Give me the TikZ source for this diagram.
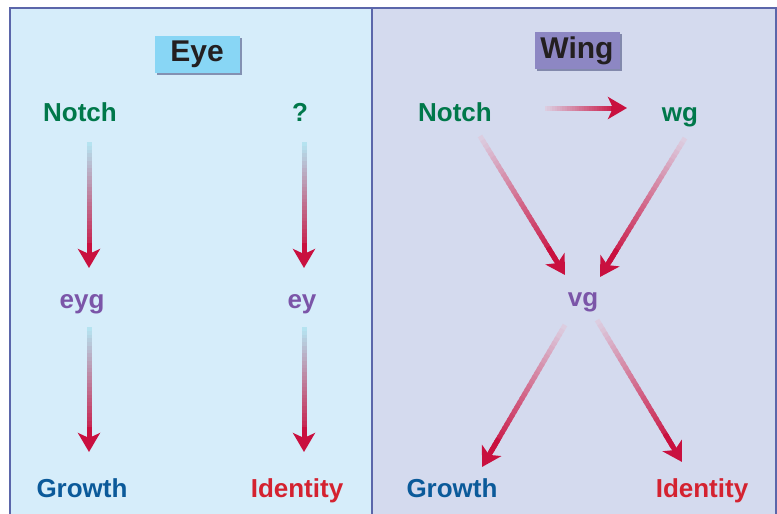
\documentclass[tikz,border=0pt]{standalone}
\usepackage{fontspec}
\setmainfont{Liberation Sans}
\definecolor{PanelBlue}{HTML}{D6EDFA}
\definecolor{PanelLilac}{HTML}{D4DAEE}
\definecolor{FrameBlue}{HTML}{5B66AA}
\definecolor{EyeFill}{HTML}{88D6F5}
\definecolor{WingFill}{HTML}{8D87C3}
\definecolor{TitleInk}{HTML}{231F20}
\definecolor{GeneGreen}{HTML}{00784A}
\definecolor{GenePurple}{HTML}{7B55A8}
\definecolor{FateBlue}{HTML}{0B5A9A}
\definecolor{FateRed}{HTML}{D42230}
\definecolor{ArrowRed}{HTML}{C9103F}
\definecolor{PaleCyan}{HTML}{B5E3F0}
\definecolor{PaleLilac}{HTML}{DCCDE0}
\usetikzlibrary{arrows.meta,calc,shadows}

\tikzset{
  lbl/.style={font=\fontsize{26}{30}\selectfont\bfseries, text height=19pt, text depth=6pt, inner sep=0pt},
  titlebox/.style={font=\fontsize{30}{34}\selectfont\bfseries, text=TitleInk, minimum width=85pt, minimum height=37pt, inner sep=0pt,
    drop shadow={shadow xshift=2pt, shadow yshift=-2pt, fill=FrameBlue!70!black, opacity=0.55}},
  shaft/.style={line width=5pt, line cap=butt}
}

% gradient arrow: #1 pale colour, #2 start, #3 tip
\newcommand{\gradarrow}[3]{%
  \coordinate (gs) at (#2);
  \coordinate (ge) at (#3);
  \foreach \k in {0,...,29}{
    \pgfmathsetmacro{\ta}{0.9*\k/30}
    \pgfmathsetmacro{\tb}{0.9*min((\k+1.5)/30,1)}
    \pgfmathtruncatemacro{\pc}{100*\k/29}
    \draw[shaft, draw=ArrowRed!\pc!#1] ($(gs)!\ta!(ge)$) -- ($(gs)!\tb!(ge)$);
  }
  \draw[shaft, ArrowRed, -{Stealth[length=19pt,width=22pt,inset=5pt]}] ($(gs)!0.8!(ge)$) -- (ge);
}

\begin{document}
\begin{tikzpicture}[x=1pt, y=-1pt]
  \useasboundingbox (0,0) rectangle (777,514);
  \clip (0,0) rectangle (777,514);

  % panels
  \draw[line width=2pt, draw=FrameBlue, fill=PanelBlue] (10,8) rectangle (372,530);
  \draw[line width=2pt, draw=FrameBlue, fill=PanelLilac] (372,8) rectangle (776,530);

  % titles
  \node[titlebox, fill=EyeFill] (eyeTitle) at (197,54.5) {Eye};
  \node[titlebox, fill=WingFill] (wingTitle) at (577,50.5) {Wing};

  % eye
  \node[lbl, text=GeneGreen] (notchL) at (80,114.5) {Notch};
  \node[lbl, text=GeneGreen] (qL) at (300,114.5) {?};
  \node[lbl, text=GenePurple] (eygL) at (82,301.5) {eyg};
  \node[lbl, text=GenePurple] (eyL) at (302,301.5) {ey};
  \node[lbl, text=FateBlue] (growthL) at (82,490.5) {Growth};
  \node[lbl, text=FateRed] (identL) at (297,490.5) {Identity};

  % wing
  \node[lbl, text=GeneGreen] (notchR) at (455,114.5) {Notch};
  \node[lbl, text=GeneGreen] (wgR) at (680,114.5) {wg};
  \node[lbl, text=GenePurple] (vgR) at (583,300) {vg};
  \node[lbl, text=FateBlue] (growthR) at (452,490.5) {Growth};
  \node[lbl, text=FateRed] (identR) at (702,490.5) {Identity};

  \gradarrow{PaleCyan}{$(notchL)+(9,27.5)$}{$(notchL|-eygL)+(9,-33.5)$}
  \gradarrow{PaleCyan}{$(eygL)+(7,25.5)$}{$(eygL|-growthL)+(7,-38.5)$}
  \gradarrow{PaleCyan}{$(qL)+(4,27.5)$}{$(qL|-eyL)+(4,-33.5)$}
  \gradarrow{PaleCyan}{$(eyL)+(2,25.5)$}{$(eyL|-identL)+(2,-38.5)$}

  \gradarrow{PaleLilac}{$(notchR)+(90,-6.5)$}{$(wgR)+(-53,-6.5)$}
  \gradarrow{PaleLilac}{$(notchR)+(25,21.5)$}{$(vgR)+(-18,-25)$}
  \gradarrow{PaleLilac}{$(wgR)+(5,23.5)$}{$(vgR)+(17,-23)$}
  \gradarrow{PaleLilac}{$(vgR)+(-18,25)$}{$(growthR)+(30,-23.5)$}
  \gradarrow{PaleLilac}{$(vgR)+(14,20)$}{$(identR)+(-20,-28.5)$}
\end{tikzpicture}
\end{document}
